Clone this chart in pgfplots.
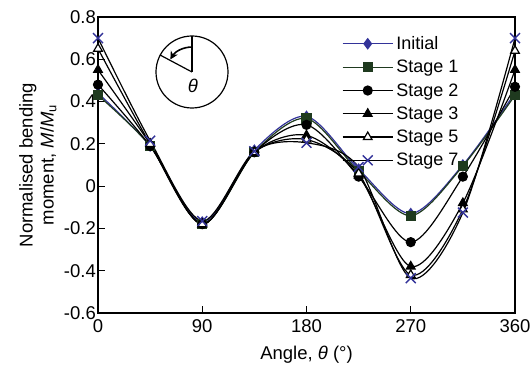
\documentclass[border=0pt]{standalone}
\usepackage{pgfplots}
\pgfplotsset{compat=1.18}
\usepackage{pgfplotstable}
\usepackage{fontspec}
\setmainfont{Liberation Sans}
\usetikzlibrary{arrows.meta}
\definecolor{navy}{HTML}{333399}
\definecolor{dgreen}{HTML}{1F3A1F}

\pgfplotstableread{
theta initial stageA stageB stageC stageE stageG
0    0.44  0.43  0.48  0.55  0.65  0.70
45   0.19  0.19  0.19  0.20  0.20  0.215
90  -0.17 -0.18 -0.18 -0.18 -0.18 -0.165
135  0.17  0.16  0.16  0.16  0.16  0.165
180  0.33  0.32  0.29  0.24  0.22  0.205
225  0.08  0.07  0.045 0.05  0.06  0.09
270 -0.13 -0.14 -0.265 -0.38 -0.42 -0.435
315  0.10  0.095 0.045 -0.08 -0.11 -0.125
360  0.44  0.43  0.47  0.55  0.64  0.70
}\data

\begin{document}
\begin{tikzpicture}
\useasboundingbox (-98pt,-56pt) rectangle (433pt,313pt);
\begin{axis}[
  scale only axis,
  width=417pt, height=296pt,
  xmin=0, xmax=360, ymin=-0.6, ymax=0.8,
  xtick={0,90,180,270,360},
  ytick={-0.6,-0.4,...,0.8},
  yticklabel style={/pgf/number format/fixed,/pgf/number format/precision=1, xshift=-1pt},
  xticklabel style={yshift=-5.5pt},
  /pgf/number format/assume math mode=true,
  xtick pos=bottom, ytick pos=left,
  tick align=inside,
  major tick length=7pt,
  axis line style={line width=1.3pt},
  every tick/.style={line width=1.1pt, black},
  tick label style={font=\fontsize{18.5}{21}\selectfont, inner sep=1pt},
  label style={font=\fontsize{18.5}{21}\selectfont},
  xlabel={Angle, \textit{θ} (°)},
  ylabel={Normalised bending\\moment, \textit{M}/\textit{M}\textsubscript{u}},
  ylabel style={align=center, yshift=3pt},
  xlabel style={yshift=-9pt},
  legend style={draw=none, fill=none, at={(0.585,0.945)}, anchor=north west,
    font=\fontsize{18}{21}\selectfont, row sep=3.2pt, inner sep=0pt,
    nodes={inner sep=3pt}},
  legend cell align=left,
  legend image code/.code={
    \draw[mark repeat=2, mark phase=2] plot coordinates {(0pt,0pt) (25pt,0pt) (50pt,0pt)};
  },
  every axis plot/.append style={smooth, tension=0.5, line width=1.2pt},
]
\addplot[navy, mark=diamond*, mark size=5pt, mark options={fill=navy, solid}] table[x=theta,y=initial]{\data};
\addlegendentry{Initial}
\addplot[dgreen, mark=square*, mark size=4.5pt, mark options={fill=dgreen}] table[x=theta,y=stageA]{\data};
\addlegendentry{Stage 1}
\addplot[black, mark=*, mark size=4.5pt] table[x=theta,y=stageB]{\data};
\addlegendentry{Stage 2}
\addplot[black, mark=triangle*, mark size=5pt] table[x=theta,y=stageC]{\data};
\addlegendentry{Stage 3}
\addplot[black, mark=triangle*, mark size=5pt, mark options={fill=white, line width=1.2pt}] table[x=theta,y=stageE]{\data};
\addlegendentry{Stage 5}
\addplot[black, mark=x, mark size=7pt, mark options={draw=navy, line width=1.4pt}] table[x=theta,y=stageG]{\data};
\addlegendentry{Stage 7}
\end{axis}
% inset sketch
\begin{scope}[shift={(94pt,241pt)}, line width=1.2pt]
  \draw (0,0) circle (36pt);
  \draw (0,0) -- (90:36pt);
  \draw (0,0) -- (152:36pt);
  \draw[line width=1.6pt, -{Stealth[length=8pt,width=8pt]}] (90:25pt) arc (90:150:25pt);
  \node[font=\fontsize{18.5}{21}\selectfont\itshape] at (1pt,-14pt) {θ};
\end{scope}
\end{tikzpicture}
\end{document}
